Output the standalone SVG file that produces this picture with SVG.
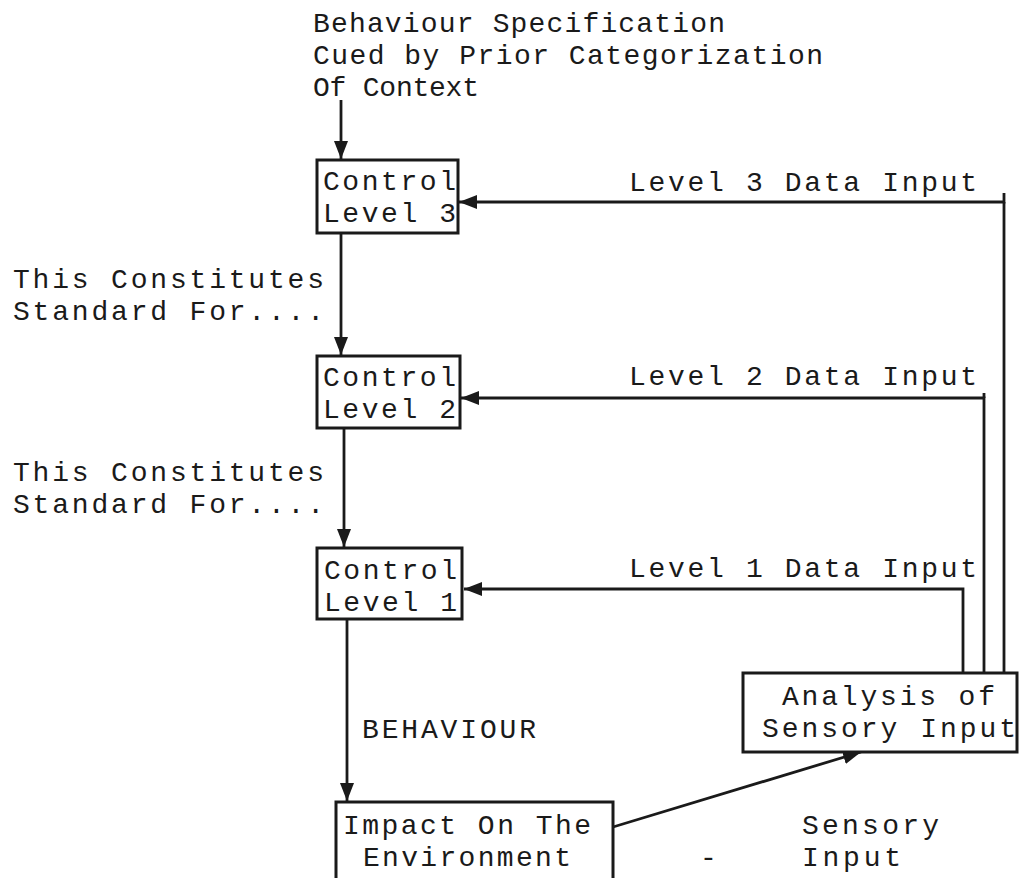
<svg xmlns="http://www.w3.org/2000/svg" width="1019" height="878" viewBox="0 0 1019 878">
<style>
  text { font-family: "Liberation Mono", "Courier New", monospace; font-size: 28px; fill: #1a1a1a; }
  .box { fill: #ffffff; stroke: #1a1a1a; stroke-width: 3; }
  .line { fill: none; stroke: #1a1a1a; stroke-width: 2.8; }
</style>
<defs>
  <marker id="arr" viewBox="0 0 18 14" markerWidth="18" markerHeight="14" refX="18" refY="7" orient="auto" markerUnits="userSpaceOnUse">
    <path d="M0,0 L18,7 L0,14 z" fill="#1a1a1a"/>
  </marker>
</defs>
<rect width="1019" height="878" fill="#ffffff"/>

<g id="title">
  <text x="313" y="32" textLength="412">Behaviour Specification</text>
  <text x="313" y="64" textLength="510">Cued by Prior Categorization</text>
  <text x="313" y="96" textLength="166">Of Context</text>
</g>

<g id="connectors">
  <line class="line" x1="341" y1="100" x2="341" y2="159" marker-end="url(#arr)"/>
  <line class="line" x1="341" y1="233" x2="341" y2="355" marker-end="url(#arr)"/>
  <line class="line" x1="344" y1="428" x2="344" y2="547" marker-end="url(#arr)"/>
  <line class="line" x1="347" y1="619" x2="347" y2="801" marker-end="url(#arr)"/>
  <polyline class="line" points="1004,193 1004,202 459,202" marker-end="url(#arr)"/>
  <polyline class="line" points="984,673 984,398 461,398" marker-end="url(#arr)"/>
  <polyline class="line" points="963,673 963,589 464,589" marker-end="url(#arr)"/>
  <line class="line" x1="1004" y1="202" x2="1004" y2="673"/>
  <line class="line" x1="984" y1="393" x2="984" y2="398"/>
  <line class="line" x1="613" y1="827" x2="861" y2="752" marker-end="url(#arr)"/>
</g>

<g id="labels">
  <text x="629" y="191" textLength="348">Level 3 Data Input</text>
  <text x="629" y="385" textLength="348">Level 2 Data Input</text>
  <text x="629" y="577" textLength="348">Level 1 Data Input</text>
  <text x="13" y="288" textLength="311">This Constitutes</text>
  <text x="13" y="320" textLength="311">Standard For....</text>
  <text x="13" y="481" textLength="311">This Constitutes</text>
  <text x="13" y="513" textLength="311">Standard For....</text>
  <text x="362" y="738" textLength="174">BEHAVIOUR</text>
  <text x="802" y="834" textLength="137">Sensory</text>
  <text x="802" y="866" textLength="99">Input</text>
  <text x="700" y="866">-</text>
</g>

<g id="control-level-3">
  <rect class="box" x="317" y="160" width="141" height="73"/>
  <text x="323" y="190" textLength="133">Control</text>
  <text x="323" y="222" textLength="133">Level 3</text>
</g>

<g id="control-level-2">
  <rect class="box" x="317" y="356" width="143" height="72"/>
  <text x="323" y="386" textLength="133">Control</text>
  <text x="323" y="418" textLength="133">Level 2</text>
</g>

<g id="control-level-1">
  <rect class="box" x="317" y="548" width="145" height="71"/>
  <text x="324" y="579" textLength="133">Control</text>
  <text x="324" y="611" textLength="133">Level 1</text>
</g>

<g id="impact">
  <rect class="box" x="336" y="802" width="277" height="90"/>
  <text x="343" y="834" textLength="248">Impact On The</text>
  <text x="363" y="866" textLength="208">Environment</text>
</g>

<g id="analysis">
  <rect class="box" x="743" y="673" width="274" height="79"/>
  <text x="782" y="705" textLength="213">Analysis of</text>
  <text x="762" y="737" textLength="254">Sensory Input</text>
</g>
</svg>
